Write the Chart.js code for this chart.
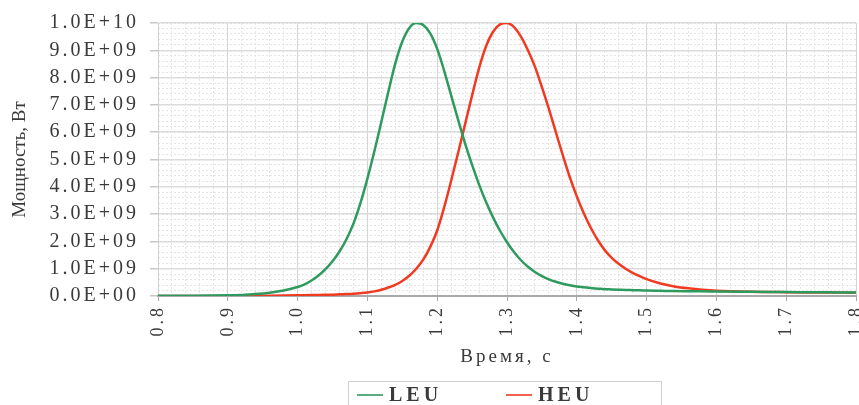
<!DOCTYPE html>
<html lang="ru">
<head>
<meta charset="utf-8">
<title>Мощность LEU / HEU</title>
<script src="https://cdn.jsdelivr.net/npm/chart.js@4.4.1/dist/chart.umd.min.js"></script>
<style>
  html, body { margin: 0; padding: 0; background: #fff; }
  #wrap { width: 859px; height: 405px; }
</style>
</head>
<body>
<div id="wrap"><canvas id="powerChart" width="859" height="405"></canvas></div>
<script>
// ===== DATA =====
// time, s
const timeSec = [
  0.80, 0.85, 0.90, 0.92, 0.94, 0.96, 0.98,
  1.00, 1.01, 1.02, 1.03, 1.04, 1.05, 1.06, 1.07, 1.08, 1.09,
  1.10, 1.11, 1.12, 1.13, 1.14, 1.15, 1.16, 1.17, 1.18, 1.19,
  1.20, 1.21, 1.22, 1.23, 1.24, 1.25, 1.26, 1.27, 1.28, 1.29,
  1.30, 1.31, 1.32, 1.33, 1.34, 1.35, 1.36, 1.37, 1.38, 1.39,
  1.40, 1.41, 1.42, 1.43, 1.44, 1.45, 1.46, 1.47, 1.48, 1.49,
  1.50, 1.52, 1.54, 1.56, 1.58, 1.60, 1.65, 1.70, 1.75, 1.80
];

// power, units of 1E+09 W
const leuPower = [
  0.005, 0.01, 0.025, 0.04, 0.07, 0.12, 0.20,
  0.33, 0.43, 0.57, 0.75, 0.98, 1.27, 1.63, 2.08, 2.65, 3.40,
  4.30, 5.30, 6.38, 7.48, 8.52, 9.32, 9.82, 10.0, 9.93, 9.62,
  9.05, 8.25, 7.35, 6.45, 5.58, 4.80, 4.08, 3.44, 2.88, 2.39,
  1.97, 1.61, 1.31, 1.07, 0.88, 0.73, 0.61, 0.52, 0.45, 0.395,
  0.35, 0.32, 0.29, 0.27, 0.25, 0.24, 0.23, 0.22, 0.215, 0.21,
  0.20, 0.19, 0.18, 0.175, 0.17, 0.165, 0.155, 0.145, 0.135, 0.13
];

const heuPower = [
  0.0, 0.0, 0.005, 0.007, 0.01, 0.013, 0.018,
  0.025, 0.03, 0.035, 0.04, 0.045, 0.05, 0.06, 0.07, 0.085, 0.105,
  0.13, 0.17, 0.23, 0.31, 0.41, 0.55, 0.74, 1.00, 1.33, 1.80,
  2.40, 3.25, 4.22, 5.25, 6.30, 7.35, 8.35, 9.15, 9.68, 9.95,
  10.0, 9.85, 9.50, 9.00, 8.40, 7.65, 6.85, 6.00, 5.15, 4.35,
  3.65, 3.03, 2.50, 2.05, 1.68, 1.40, 1.18, 1.00, 0.85, 0.73,
  0.62, 0.46, 0.35, 0.28, 0.23, 0.195, 0.155, 0.14, 0.13, 0.12
];

const xTickValues = [0.8, 0.9, 1.0, 1.1, 1.2, 1.3, 1.4, 1.5, 1.6, 1.7, 1.8];
const xTickLabels = ['0.8', '0.9', '1.0', '1.1', '1.2', '1.3', '1.4', '1.5', '1.6', '1.7', '1.8'];
const yTickValues = [0, 1, 2, 3, 4, 5, 6, 7, 8, 9, 10];
const yTickLabels = ['0.0E+00', '1.0E+09', '2.0E+09', '3.0E+09', '4.0E+09', '5.0E+09',
  '6.0E+09', '7.0E+09', '8.0E+09', '9.0E+09', '1.0E+10'];

const seriesNames = ['LEU', 'HEU'];
const seriesColors = ['#2e9a5e', '#f03a22'];

// ===== STYLE =====
const SERIF = "'Liberation Serif', 'Times New Roman', serif";
const TEXT_COLOR = '#3a3a3a';
const SPACING = '3px';

function toPoints(values) {
  return timeSec.map((t, i) => ({ x: t, y: values[i] }));
}

// canvas letter spacing (the picture is stretched horizontally)
const spacingPlugin = {
  id: 'spacing',
  beforeUpdate(chart) { chart.ctx.letterSpacing = SPACING; },
  beforeDraw(chart) { chart.ctx.letterSpacing = SPACING; }
};

// y title + boxed legend drawn by hand
const decorPlugin = {
  id: 'decor',
  afterDraw(chart) {
    const ctx = chart.ctx;
    const area = chart.chartArea;

    ctx.save();
    ctx.letterSpacing = '0px';
    ctx.fillStyle = TEXT_COLOR;
    ctx.font = '19px ' + SERIF;
    ctx.textAlign = 'center';
    ctx.textBaseline = 'middle';
    ctx.translate(20, (area.top + area.bottom) / 2);
    ctx.rotate(-Math.PI / 2);
    ctx.fillText('Мощность, Вт', 0, 0);
    ctx.restore();

    // legend
    ctx.save();
    ctx.strokeStyle = '#d0d0d0';
    ctx.lineWidth = 1;
    ctx.strokeRect(348.5, 381.5, 313, 40);
    ctx.letterSpacing = '4px';
    ctx.font = 'bold 20px ' + SERIF;
    ctx.textBaseline = 'middle';
    ctx.textAlign = 'left';
    const itemX = [357, 506];
    chart.data.datasets.forEach((ds, i) => {
      const x0 = itemX[i];
      ctx.strokeStyle = ds.borderColor;
      ctx.globalAlpha = 0.8;
      ctx.lineWidth = 2;
      ctx.beginPath();
      ctx.moveTo(x0, 395);
      ctx.lineTo(x0 + 26, 395);
      ctx.stroke();
      ctx.globalAlpha = 1;
      ctx.fillStyle = TEXT_COLOR;
      ctx.fillText(ds.label, x0 + 32, 396);
    });
    ctx.restore();
  }
};

const ctx = document.getElementById('powerChart');

new Chart(ctx, {
  type: 'line',
  data: {
    datasets: seriesNames.map((name, i) => ({
      label: name,
      data: toPoints(i === 0 ? leuPower : heuPower),
      borderColor: seriesColors[i],
      backgroundColor: seriesColors[i],
      borderWidth: 2.5,
      pointRadius: 0,
      cubicInterpolationMode: 'monotone',
      fill: false
    }))
  },
  options: {
    responsive: false,
    animation: false,
    layout: { padding: { top: 21, right: 3, left: 0, bottom: 0 } },
    plugins: {
      legend: { display: false },
      tooltip: { enabled: false }
    },
    scales: {
      xMinor: {
        type: 'linear', position: 'bottom', min: 0.8, max: 1.8, z: -1,
        ticks: { display: false, stepSize: 0.02 },
        grid: { color: '#e4e4e4', lineWidth: 1, drawTicks: false },
        border: { display: false, dash: [2, 2] }
      },
      yMinor: {
        type: 'linear', position: 'left', min: 0, max: 10, z: -1,
        ticks: { display: false, stepSize: 0.2 },
        grid: { color: '#e4e4e4', lineWidth: 1, drawTicks: false },
        border: { display: false, dash: [2, 2] }
      },
      x: {
        type: 'linear', position: 'bottom', min: 0.8, max: 1.8,
        afterBuildTicks: axis => { axis.ticks = xTickValues.map(v => ({ value: v })); },
        afterFit: axis => { axis.height = 109; axis.paddingLeft = 0; axis.paddingRight = 0; },
        ticks: {
          callback: (v, i) => xTickLabels[i],
          minRotation: 90, maxRotation: 90,
          autoSkip: false,
          padding: 4,
          color: TEXT_COLOR,
          font: { family: SERIF, size: 18 }
        },
        grid: { color: '#d4d4d4', lineWidth: 1, tickLength: 5, tickColor: '#a8a8a8' },
        border: { color: '#a8a8a8', width: 2 },
        title: {
          display: true, text: 'Время, с', color: TEXT_COLOR,
          font: { family: SERIF, size: 19 },
          padding: { top: 0, bottom: 37 }
        }
      },
      y: {
        type: 'linear', position: 'left', min: 0, max: 10,
        afterBuildTicks: axis => { axis.ticks = yTickValues.map(v => ({ value: v })); },
        afterFit: axis => { axis.width = 158; },
        ticks: {
          callback: (v, i) => yTickLabels[i],
          padding: 11,
          color: TEXT_COLOR,
          font: { family: SERIF, size: 20 }
        },
        grid: { color: '#dcdcdc', lineWidth: 1.5, tickLength: 8, tickColor: '#c8c8c8' },
        border: { color: '#cfcfcf', width: 1 }
      }
    }
  },
  plugins: [spacingPlugin, decorPlugin]
});
</script>
</body>
</html>
